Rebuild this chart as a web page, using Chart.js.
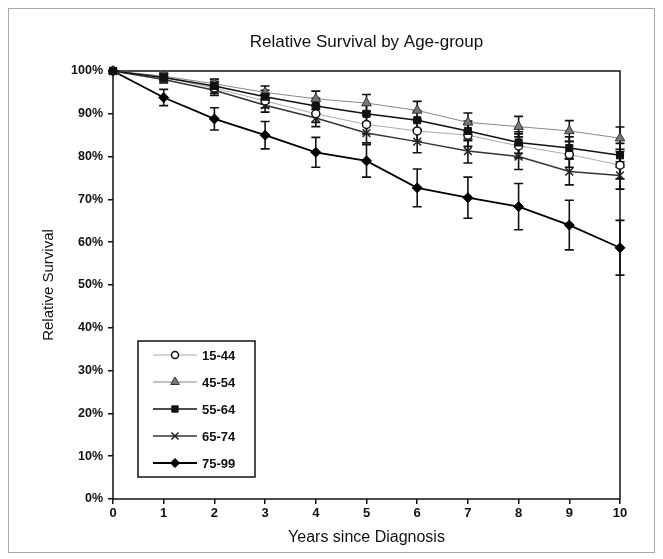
<!DOCTYPE html>
<html>
<head>
<meta charset="utf-8">
<script src="https://cdn.jsdelivr.net/npm/chart.js@4"></script>
<style>
  html, body { margin: 0; padding: 0; background: #fff; }
  #wrap { width: 663px; height: 559px; position: relative; }
</style>
</head>
<body>
<div id="wrap"><canvas id="c" width="663" height="559"></canvas></div>
<script>
// 資料
const YEARS = [0, 1, 2, 3, 4, 5, 6, 7, 8, 9, 10];
const AGE_GROUPS = ['15-44', '45-54', '55-64', '65-74', '75-99'];
const S_15_44 = [100, 98.5, 96, 93, 90, 87.5, 86, 85, 82.5, 80.5, 78];
const S_45_54 = [100, 98.8, 97, 95, 93.5, 92.5, 90.8, 88, 87, 86, 84.3];
const S_55_64 = [100, 98.5, 96.5, 94, 91.8, 90, 88.5, 86, 83.3, 82, 80.3];
const S_65_74 = [100, 98, 95.5, 92, 89, 85.5, 83.5, 81.3, 80, 76.5, 75.6];
const S_75_99 = [100, 93.8, 88.8, 85, 81, 79, 72.7, 70.4, 68.3, 64, 58.7];
// 誤差 (±)
const E_15_44 = [0, 0.8, 1.2, 1.6, 2, 2.2, 2.4, 2.6, 2.8, 3, 3.2];
const E_45_54 = [0, 0.7, 1.1, 1.5, 1.8, 2, 2.1, 2.2, 2.4, 2.4, 2.6];
const E_55_64 = [0, 0.7, 1.1, 1.5, 1.8, 2, 2.2, 2.3, 2.5, 2.6, 2.8];
const E_65_74 = [0, 0.8, 1.2, 1.6, 2, 2.3, 2.6, 2.8, 3, 3.1, 3.2];
const E_75_99 = [0, 1.9, 2.6, 3.2, 3.5, 3.8, 4.4, 4.8, 5.4, 5.8, 6.4];
const Y_TICKS = [0, 10, 20, 30, 40, 50, 60, 70, 80, 90, 100];

const FONT = '"Liberation Sans", Arial, sans-serif';

function pts(vals) { return YEARS.map((x, i) => ({ x, y: vals[i] })); }

const STYLES = [
  { line: '#aaaaaa', width: 1,   point: 'circle',    r: 4,   fill: '#ffffff', stroke: '#111', pw: 1.5, order: 3 },
  { line: '#888888', width: 1,   point: 'triangle',  r: 5.5, fill: '#777777', stroke: '#333', pw: 1,   order: 2 },
  { line: '#111111', width: 1.5, point: 'rect',      r: 5,   fill: '#111111', stroke: '#111', pw: 1,   order: 0 },
  { line: '#333333', width: 1.5, point: 'crossRot',  r: 5.5, fill: '#333333', stroke: '#222', pw: 1.5, order: 4 },
  { line: '#000000', width: 1.8, point: 'rectRot',   r: 5,   fill: '#000000', stroke: '#000', pw: 1,   order: 5 }
];
const SERIES = [S_15_44, S_45_54, S_55_64, S_65_74, S_75_99];
const ERRORS = [E_15_44, E_45_54, E_55_64, E_65_74, E_75_99];

const datasets = AGE_GROUPS.map((g, i) => ({
  label: g,
  data: pts(SERIES[i]),
  errors: ERRORS[i],
  order: STYLES[i].order,
  borderColor: STYLES[i].line,
  borderWidth: STYLES[i].width,
  pointStyle: STYLES[i].point,
  pointRadius: STYLES[i].r,
  pointBackgroundColor: STYLES[i].fill,
  pointBorderColor: STYLES[i].stroke,
  pointBorderWidth: STYLES[i].pw,
  tension: 0,
  clip: false
}));

// 誤差線
const errorBars = {
  id: 'errorBars',
  beforeDatasetsDraw(chart) {
    const { ctx, scales: { x, y } } = chart;
    ctx.save();
    ctx.strokeStyle = '#111';
    ctx.lineWidth = 1.6;
    chart.data.datasets.forEach(ds => {
      ds.data.forEach((p, i) => {
        const e = ds.errors[i];
        if (!e) return;
        const px = x.getPixelForValue(p.x);
        const y1 = y.getPixelForValue(p.y + e);
        const y2 = y.getPixelForValue(p.y - e);
        ctx.beginPath();
        ctx.moveTo(px, y1); ctx.lineTo(px, y2);
        ctx.moveTo(px - 4.5, y1); ctx.lineTo(px + 4.5, y1);
        ctx.moveTo(px - 4.5, y2); ctx.lineTo(px + 4.5, y2);
        ctx.stroke();
      });
    });
    ctx.restore();
  }
};

// 外框、標題、圖例
const decor = {
  id: 'decor',
  beforeDraw(chart) {
    const ctx = chart.ctx;
    ctx.save();
    ctx.fillStyle = '#fff';
    ctx.fillRect(0, 0, chart.width, chart.height);
    ctx.strokeStyle = '#aaa';
    ctx.lineWidth = 1;
    ctx.strokeRect(8.5, 8.5, 646, 544);
    ctx.restore();
  },
  beforeDatasetsDraw(chart) {
    const { ctx, chartArea: a } = chart;
    ctx.save();
    ctx.strokeStyle = '#111';
    ctx.lineWidth = 1.5;
    ctx.strokeRect(a.left, a.top, a.right - a.left, a.bottom - a.top);
    ctx.restore();
  },
  afterDraw(chart) {
    const { ctx, chartArea: a } = chart;
    ctx.save();
    ctx.fillStyle = '#111';
    ctx.font = '17px ' + FONT;
    ctx.textAlign = 'center';
    ctx.textBaseline = 'middle';
    ctx.fillText('Relative Survival by Age-group', (a.left + a.right) / 2, 42);

    // 圖例
    const bx = a.left + 25, by = a.top + 270;
    ctx.lineWidth = 1.5;
    ctx.strokeStyle = '#111';
    ctx.fillStyle = '#fff';
    ctx.fillRect(bx, by, 117, 136);
    ctx.strokeRect(bx, by, 117, 136);
    chart.data.datasets.forEach((ds, i) => {
      const ly = by + 14 + i * 27;
      ctx.strokeStyle = ds.borderColor;
      ctx.lineWidth = ds.borderWidth;
      ctx.beginPath();
      ctx.moveTo(bx + 15, ly); ctx.lineTo(bx + 59, ly);
      ctx.stroke();
      ctx.fillStyle = ds.pointBackgroundColor;
      ctx.strokeStyle = ds.pointBorderColor;
      ctx.lineWidth = ds.pointBorderWidth;
      Chart.helpers.drawPoint(ctx, { pointStyle: ds.pointStyle, radius: ds.pointRadius - 0.5, rotation: 0, borderWidth: ds.pointBorderWidth }, bx + 37, ly);
      ctx.fillStyle = '#111';
      ctx.font = 'bold 13px ' + FONT;
      ctx.textAlign = 'left';
      ctx.fillText(ds.label, bx + 64, ly + 1);
    });
    ctx.restore();
  }
};

new Chart(document.getElementById('c'), {
  type: 'line',
  data: { datasets },
  plugins: [errorBars, decor],
  options: {
    responsive: false,
    animation: false,
    layout: { padding: { top: 71, right: 43, bottom: 0, left: 0 } },
    plugins: { legend: { display: false }, tooltip: { enabled: false }, title: { display: false } },
    scales: {
      x: {
        type: 'linear',
        min: 0, max: 10,
        afterFit: s => { s.height = 60; },
        ticks: { stepSize: 1, color: '#111', font: { family: FONT, size: 13, weight: 'bold' }, padding: 2, maxRotation: 0 },
        grid: { drawOnChartArea: false, drawTicks: true, tickLength: 5, color: '#111', lineWidth: 1.5 },
        border: { display: false },
        title: { display: true, text: 'Years since Diagnosis', color: '#111', font: { family: FONT, size: 16 }, padding: { top: 0, bottom: 12 } }
      },
      y: {
        min: 0, max: 100,
        afterFit: s => { s.width = 113; },
        afterBuildTicks: s => { s.ticks = Y_TICKS.map(v => ({ value: v })); },
        ticks: { color: '#111', font: { family: FONT, size: 12.5, weight: 'bold' }, padding: 5, callback: v => v + '%' },
        grid: { drawOnChartArea: false, drawTicks: true, tickLength: 5, color: '#111', lineWidth: 1.5 },
        border: { display: false },
        title: { display: true, text: 'Relative Survival', color: '#111', font: { family: FONT, size: 15 }, padding: { top: 40, bottom: 0 } }
      }
    }
  }
});
</script>
</body>
</html>
